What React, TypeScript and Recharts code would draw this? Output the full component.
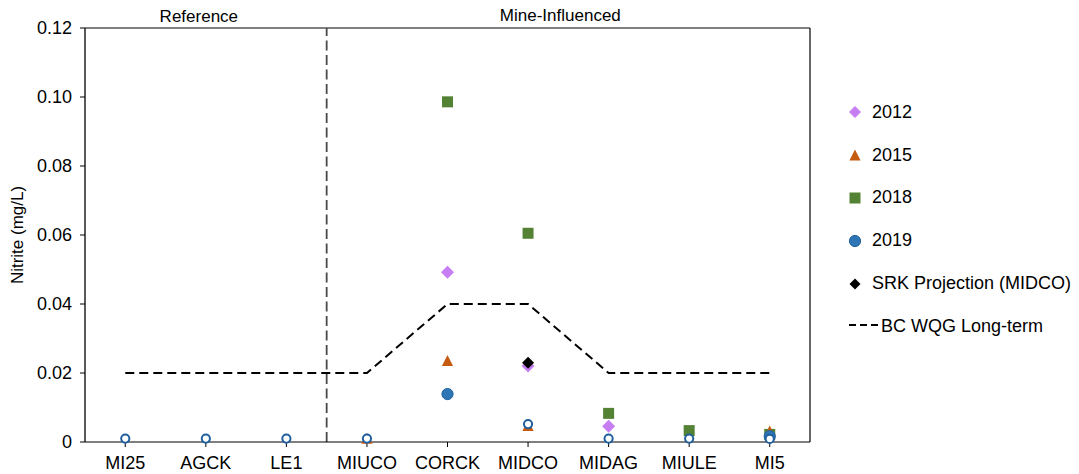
import React from 'react';
import {
  ScatterChart,
  Scatter,
  XAxis,
  YAxis,
  ReferenceLine,
  ReferenceArea,
  Legend,
  Label,
} from 'recharts';

// Sampling sites along the creek, upstream reference sites first
const sites = ['MI25', 'AGCK', 'LE1', 'MIUCO', 'CORCK', 'MIDCO', 'MIDAG', 'MIULE', 'MI5'];
const yTicks = [0, 0.02, 0.04, 0.06, 0.08, 0.1, 0.12];

// Nitrite concentrations (mg/L) by monitoring year; null = not sampled
const nitrite2012 = [null, null, null, null, 0.0492, 0.022, 0.0046, null, null];
const nitrite2015 = [null, null, null, 0.0008, 0.0233, 0.0045, null, null, 0.0029];
const nitrite2018 = [null, null, null, null, 0.0986, 0.0605, 0.0083, 0.0033, 0.0022];
const nitrite2019 = [null, null, null, null, 0.0139, null, null, null, 0.0017];
// 2019 results reported below the detection limit (open symbols)
const nitrite2019Bdl = [0.001, 0.001, 0.001, 0.001, null, 0.0052, 0.001, 0.001, 0.0009];
const srkProjection = [null, null, null, null, null, 0.023, null, null, null];
// Long-term BC water quality guideline per site
const bcWqgLongTerm = [0.02, 0.02, 0.02, 0.02, 0.04, 0.04, 0.02, 0.02, 0.02];

const FONT = '"Liberation Sans", Arial, sans-serif';

const C2012 = '#C77EF2';
const C2015 = '#C55A11';
const C2018 = '#548235';
const C2019 = '#2E75B6';
const C2019_EDGE = '#1F5F9E';
const CSRK = '#000000';

type Pt = { x: number; y: number };
const toPoints = (vals: (number | null)[]): Pt[] =>
  vals
    .map((v, i) => (v == null ? null : { x: i, y: v }))
    .filter((p): p is Pt => p !== null);

// Marker shapes
const diamondShape = (fill: string, half: number) => (p: any) => {
  const { cx, cy } = p;
  return (
    <polygon
      points={`${cx},${cy - half} ${cx + half},${cy} ${cx},${cy + half} ${cx - half},${cy}`}
      fill={fill}
    />
  );
};
const triangleShape = (fill: string) => (p: any) => {
  const { cx, cy } = p;
  return (
    <polygon
      points={`${cx},${cy - 6.5} ${cx + 5.6},${cy + 4.5} ${cx - 5.6},${cy + 4.5}`}
      fill={fill}
    />
  );
};
const squareShape = (fill: string) => (p: any) => {
  const { cx, cy } = p;
  return <rect x={cx - 5.5} y={cy - 5.5} width={11} height={11} fill={fill} />;
};
const circleShape = (fill: string, edge: string) => (p: any) => {
  const { cx, cy } = p;
  return <circle cx={cx} cy={cy} r={5.6} fill={fill} stroke={edge} strokeWidth={1} />;
};
const openCircleShape = (p: any) => {
  const { cx, cy } = p;
  return <circle cx={cx} cy={cy} r={4.1} fill="#ffffff" stroke={C2019_EDGE} strokeWidth={2} />;
};
const NoMarker = () => <g />;

type LegendItem = { name: string; icon: React.ReactNode; isLine?: boolean };
const legendItems: LegendItem[] = [
  { name: '2012', icon: diamondShape(C2012, 6)({ cx: 12, cy: 10 }) },
  { name: '2015', icon: triangleShape(C2015)({ cx: 12, cy: 11 }) },
  { name: '2018', icon: squareShape(C2018)({ cx: 12, cy: 10 }) },
  { name: '2019', icon: circleShape(C2019, C2019_EDGE)({ cx: 12, cy: 10 }) },
  { name: 'SRK Projection (MIDCO)', icon: diamondShape(CSRK, 5.5)({ cx: 12, cy: 10 }) },
  {
    name: 'BC WQG Long-term',
    isLine: true,
    icon: <line x1={6} y1={9} x2={35} y2={9} stroke="#000" strokeWidth={2} strokeDasharray="7 4" />,
  },
];

const LegendList = () => (
  <div style={{ fontFamily: FONT, fontSize: 18, color: '#000' }}>
    {legendItems.map((it) => (
      <div key={it.name} style={{ display: 'flex', alignItems: 'center', height: 42.8 }}>
        <svg width={it.isLine ? 38 : 24} height={20} style={{ display: 'block' }}>
          {it.icon}
        </svg>
        <span style={{ marginLeft: it.isLine ? 0 : 5, whiteSpace: 'nowrap' }}>{it.name}</span>
      </div>
    ))}
  </div>
);

const AxisTitle = (props: any) => {
  const vb = props.viewBox || { x: 0, y: 28, width: 85, height: 414 };
  const cx = 17;
  const cy = vb.y + vb.height / 2;
  return (
    <text
      x={cx}
      y={cy}
      transform={`rotate(-90 ${cx} ${cy})`}
      textAnchor="middle"
      dominantBaseline="central"
      fontSize={17}
      fontFamily={FONT}
      fill="#000"
    >
      Nitrite (mg/L)
    </text>
  );
};

export default function App() {
  return (
    <div style={{ position: 'absolute', left: 0, top: 0, background: '#fff' }}>
      <ScatterChart
        width={1079}
        height={474}
        margin={{ top: 28, right: 269, bottom: 0, left: 0 }}
        style={{ fontFamily: FONT }}
      >
        <XAxis
          type="number"
          dataKey="x"
          domain={[-0.5, 8.5]}
          ticks={sites.map((_, i) => i)}
          interval={0}
          tickFormatter={(v: number) => sites[v] ?? ''}
          height={32}
          tickSize={5}
          tickMargin={9}
          axisLine={{ stroke: '#000', strokeWidth: 1.2 }}
          tickLine={{ stroke: '#000' }}
          tick={{ fontSize: 18, fill: '#000', fontFamily: FONT }}
        />
        <YAxis
          type="number"
          dataKey="y"
          domain={[0, 0.12]}
          ticks={yTicks}
          interval={0}
          width={85}
          tickSize={5}
          tickMargin={8}
          tickFormatter={(v: number) => (v === 0 ? '0' : v.toFixed(2))}
          axisLine={{ stroke: '#222', strokeWidth: 1.5 }}
          tickLine={{ stroke: '#000' }}
          tick={{ fontSize: 18, fill: '#000', fontFamily: FONT }}
        >
          <Label content={<AxisTitle />} />
        </YAxis>

        {/* Site groups */}
        <ReferenceArea
          x1={-0.5}
          x2={2.5}
          fill="none"
          stroke="none"
          label={{ value: 'Reference', position: 'top', offset: 6, dx: -7, fontSize: 17, fill: '#000', fontFamily: FONT }}
        />
        <ReferenceArea
          x1={2.5}
          x2={8.5}
          fill="none"
          stroke="none"
          label={{ value: 'Mine-Influenced', position: 'top', offset: 7, dx: -8, fontSize: 17, fill: '#000', fontFamily: FONT }}
        />

        {/* Plot frame and group divider */}
        <ReferenceLine y={0.12} stroke="#000" strokeWidth={1.2} />
        <ReferenceLine x={8.5} stroke="#000" strokeWidth={1.2} />
        <ReferenceLine x={2.5} stroke="#4a4a4a" strokeWidth={1.8} strokeDasharray="10 4.5" />

        <Scatter
          name="BC WQG Long-term"
          data={toPoints(bcWqgLongTerm)}
          line={{ stroke: '#000', strokeWidth: 2, strokeDasharray: '9 5' }}
          shape={NoMarker}
          isAnimationActive={false}
        />
        <Scatter name="2018" data={toPoints(nitrite2018)} shape={squareShape(C2018)} isAnimationActive={false} />
        <Scatter name="2012" data={toPoints(nitrite2012)} shape={diamondShape(C2012, 6.5)} isAnimationActive={false} />
        <Scatter name="2015" data={toPoints(nitrite2015)} shape={triangleShape(C2015)} isAnimationActive={false} />
        <Scatter
          name="2019"
          data={toPoints(nitrite2019)}
          shape={circleShape(C2019, C2019_EDGE)}
          isAnimationActive={false}
        />
        <Scatter
          name="2019 (below detection)"
          data={toPoints(nitrite2019Bdl)}
          shape={openCircleShape}
          legendType="none"
          isAnimationActive={false}
        />
        <Scatter
          name="SRK Projection (MIDCO)"
          data={toPoints(srkProjection)}
          shape={diamondShape(CSRK, 6)}
          isAnimationActive={false}
        />

        <Legend
          layout="horizontal"
          align="center"
          verticalAlign="middle"
          content={<LegendList />}
          wrapperStyle={{ left: 843, top: 91, width: 236, right: 'auto', bottom: 'auto' }}
        />
      </ScatterChart>
    </div>
  );
}
